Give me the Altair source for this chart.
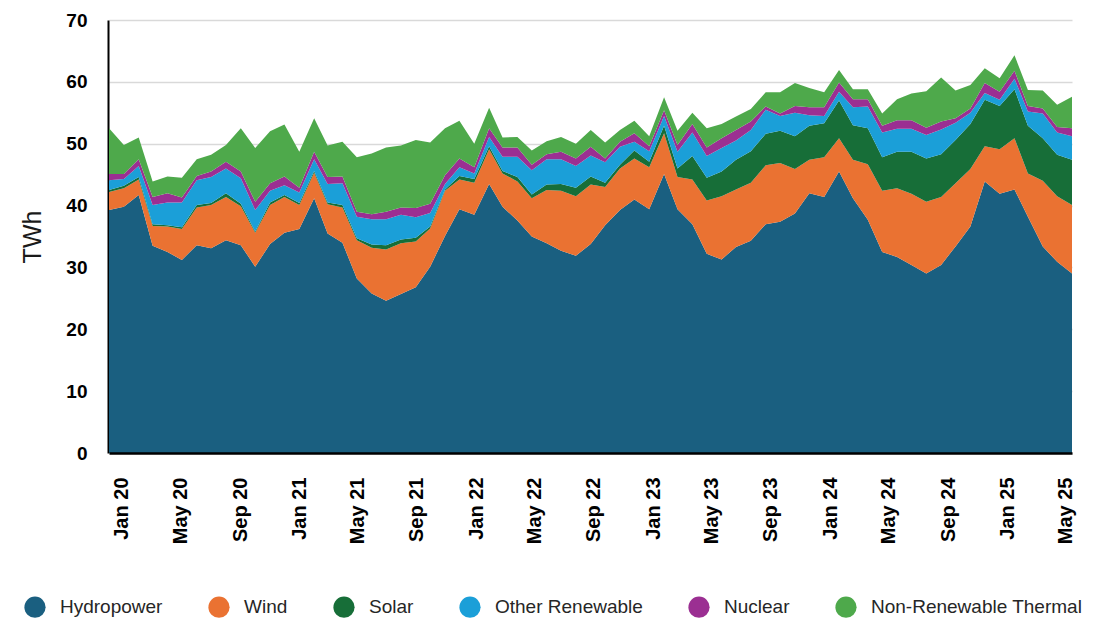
import altair as alt
import pandas as pd

sources = ["Hydropower", "Wind", "Solar", "Other Renewable", "Nuclear", "Non-Renewable Thermal"]
colors = ["#1a5f80", "#ea7232", "#176e38", "#1b9fd8", "#9b2f92", "#4ea94b"]

# monthly points, Dec 2019 .. Jun 2025
months = pd.date_range("2019-12-01", periods=67, freq="MS")

hydro = [39.3, 39.8, 41.7, 33.5, 32.5, 31.2, 33.6, 33.1, 34.4, 33.6, 30.1, 33.8,
         35.6, 36.2, 41.2, 35.5, 34.0, 28.2, 25.8, 24.6, 25.7, 26.8, 30.1,
         35.1, 39.4, 38.5, 43.5, 39.8, 37.6, 35.0, 33.9, 32.7, 31.9, 33.8,
         36.8, 39.3, 41.0, 39.4, 45.1, 39.4, 37.0, 32.2, 31.3, 33.3, 34.3,
         37.0, 37.4, 38.7, 42.0, 41.4, 45.5, 41.2, 37.7, 32.5, 31.7, 30.4,
         29.0, 30.4, 33.4, 36.6, 43.9, 41.9, 42.6, 38.2, 33.4, 30.9, 29.0]
wind = [2.9, 3.0, 2.5, 3.2, 4.1, 5.0, 6.1, 7.0, 7.0, 6.3, 5.5, 6.3,
        5.8, 3.9, 4.1, 4.7, 5.7, 6.2, 7.4, 8.3, 8.2, 7.4, 6.2,
        7.3, 4.8, 5.2, 5.6, 5.4, 6.3, 6.2, 8.6, 9.7, 9.6, 9.6,
        6.2, 6.7, 6.6, 6.8, 6.6, 5.2, 7.2, 8.6, 10.2, 9.3, 9.4,
        9.5, 9.5, 7.2, 5.4, 6.4, 5.4, 6.2, 9.0, 9.9, 11.1, 11.5,
        11.6, 11.0, 10.2, 9.3, 5.7, 7.2, 8.3, 7.0, 10.6, 10.6, 11.1]
solar = [0.3, 0.4, 0.4, 0.3, 0.2, 0.3, 0.4, 0.3, 0.6, 0.4, 0.2, 0.4,
         0.3, 0.3, 0.3, 0.3, 0.4, 0.3, 0.5, 0.7, 0.6, 0.6, 0.3,
         0.2, 0.6, 0.6, 0.5, 0.4, 0.7, 0.6, 0.9, 1.1, 1.4, 1.3,
         0.7, 0.6, 1.3, 0.9, 1.2, 1.4, 3.8, 3.7, 4.0, 4.8, 5.1,
         5.1, 5.2, 5.3, 5.5, 5.5, 6.1, 5.6, 5.8, 5.4, 5.9, 6.8,
         7.0, 6.9, 7.0, 7.3, 7.5, 7.0, 7.9, 7.7, 6.9, 6.7, 7.3]
other_renewable = [1.6, 1.1, 1.8, 3.1, 3.7, 4.0, 4.0, 4.2, 4.0, 4.1, 3.5, 1.9,
                   1.6, 1.7, 1.9, 3.0, 3.5, 3.5, 4.1, 4.2, 4.0, 3.3, 2.2,
                   0.9, 1.4, 0.9, 1.5, 2.3, 3.3, 3.9, 4.1, 4.0, 3.5, 3.4,
                   3.3, 2.9, 1.4, 1.7, 1.6, 2.7, 3.8, 3.5, 3.8, 3.1, 3.4,
                   3.9, 2.4, 3.8, 1.7, 1.2, 1.4, 2.9, 3.5, 4.0, 3.7, 3.7,
                   3.8, 4.0, 2.8, 1.8, 1.1, 1.0, 1.7, 2.3, 4.0, 3.6, 3.8]
nuclear = [1.0, 0.8, 1.1, 1.3, 1.5, 0.8, 0.7, 0.9, 1.1, 1.1, 1.3, 1.2,
           1.4, 0.8, 1.2, 1.1, 1.1, 0.8, 0.8, 1.2, 1.2, 1.5, 1.5,
           1.4, 1.4, 1.0, 1.4, 1.5, 1.5, 0.9, 0.8, 1.2, 1.2, 1.4,
           0.6, 0.8, 1.4, 0.8, 0.9, 1.1, 1.4, 1.4, 1.6, 1.7, 1.4,
           0.5, 0.4, 1.1, 1.3, 1.4, 1.5, 1.3, 1.2, 1.1, 1.4, 1.4,
           1.2, 1.3, 0.7, 0.7, 1.6, 1.3, 1.3, 0.9, 0.8, 0.9, 1.3]
thermal = [7.4, 4.7, 3.5, 2.5, 2.7, 3.2, 2.7, 2.7, 2.7, 7.0, 8.7, 8.4,
           8.4, 5.8, 5.4, 5.1, 5.6, 8.8, 9.8, 10.4, 10.0, 11.0, 9.9,
           7.6, 6.1, 3.8, 3.3, 1.6, 1.7, 2.3, 2.1, 2.4, 2.4, 2.7,
           2.6, 1.9, 2.0, 1.6, 2.1, 2.3, 1.8, 3.1, 2.3, 2.2, 2.0,
           2.3, 3.4, 3.7, 3.1, 2.4, 2.0, 1.6, 1.6, 2.0, 3.4, 4.3,
           5.9, 7.1, 4.5, 3.8, 2.4, 2.2, 2.5, 2.6, 2.9, 3.6, 5.1]

series = [hydro, wind, solar, other_renewable, nuclear, thermal]

rows = []
for k, (name, vals) in enumerate(zip(sources, series)):
    for m, v in zip(months, vals):
        rows.append({"month": m.strftime("%Y-%m-%dT00:00:00"), "source": name, "ord": k, "value": v})
df = pd.DataFrame(rows)

# axis label dates (every 4 months, Jan 20 .. May 25)
tick_labels = [f"{y}-{mo:02d}-01T00:00:00" for y in range(2020, 2026) for mo in (1, 5, 9)
               if (y, mo) <= (2025, 5)]
ticks_df = pd.DataFrame({"tick": tick_labels})

areas = alt.Chart(df).mark_area(interpolate="linear", opacity=1).encode(
    x=alt.X("month:T",
            scale=alt.Scale(domain=[alt.DateTime(year=2019, month=12, date=1),
                                    alt.DateTime(year=2025, month=6, date=1)], nice=False),
            axis=None),
    y=alt.Y("value:Q", stack="zero",
            scale=alt.Scale(domain=[0, 70], nice=False),
            axis=alt.Axis(values=list(range(0, 71, 10)), labelFontSize=19,
                          labelFontWeight="bold", labelColor="black", labelPadding=21,
                          ticks=False, domainColor="black", domainWidth=2, offset=1,
                          gridColor="#d9d9d9", gridWidth=1.5, zindex=0,
                          title="TWh", titleFontSize=25, titleFontWeight="normal",
                          titleColor="#1a1a1a", titlePadding=20)),
    color=alt.Color("source:N", scale=alt.Scale(domain=sources, range=colors),
                    legend=alt.Legend(orient="none", legendX=-85, legendY=576,
                                      direction="horizontal", columns=6,
                                      symbolType="circle", symbolSize=450,
                                      symbolStrokeWidth=0, symbolOpacity=1,
                                      labelFontSize=19, labelColor="#262626",
                                      labelLimit=400, labelOffset=14,
                                      columnPadding=45, title=None)),
    order=alt.Order("ord:Q", sort="ascending"),
)

axis_layer = alt.Chart(ticks_df).mark_point(opacity=0).encode(
    x=alt.X("tick:T",
            scale=alt.Scale(domain=[alt.DateTime(year=2019, month=12, date=5, hours=19),
                                    alt.DateTime(year=2025, month=5, date=14)], nice=False),
            axis=alt.Axis(orient="bottom", values=tick_labels, format="%b %y",
                          labelAngle=-90, labelFontSize=20, labelFontWeight="bold",
                          labelColor="black", labelPadding=24, ticks=False,
                          domainColor="black", domainWidth=2.5, grid=False, zindex=1,
                          title=None)),
    y=alt.value(0),
)

chart = alt.layer(areas, axis_layer).resolve_scale(x="independent").properties(
    width=963, height=433,
    padding={"left": 101, "top": 12, "right": 16, "bottom": 165},
    autosize=alt.AutoSizeParams(type="none"),
).configure(font="Liberation Sans").configure_view(strokeWidth=0)

chart.save("out.html", embed_options={"renderer": "svg", "actions": False})
